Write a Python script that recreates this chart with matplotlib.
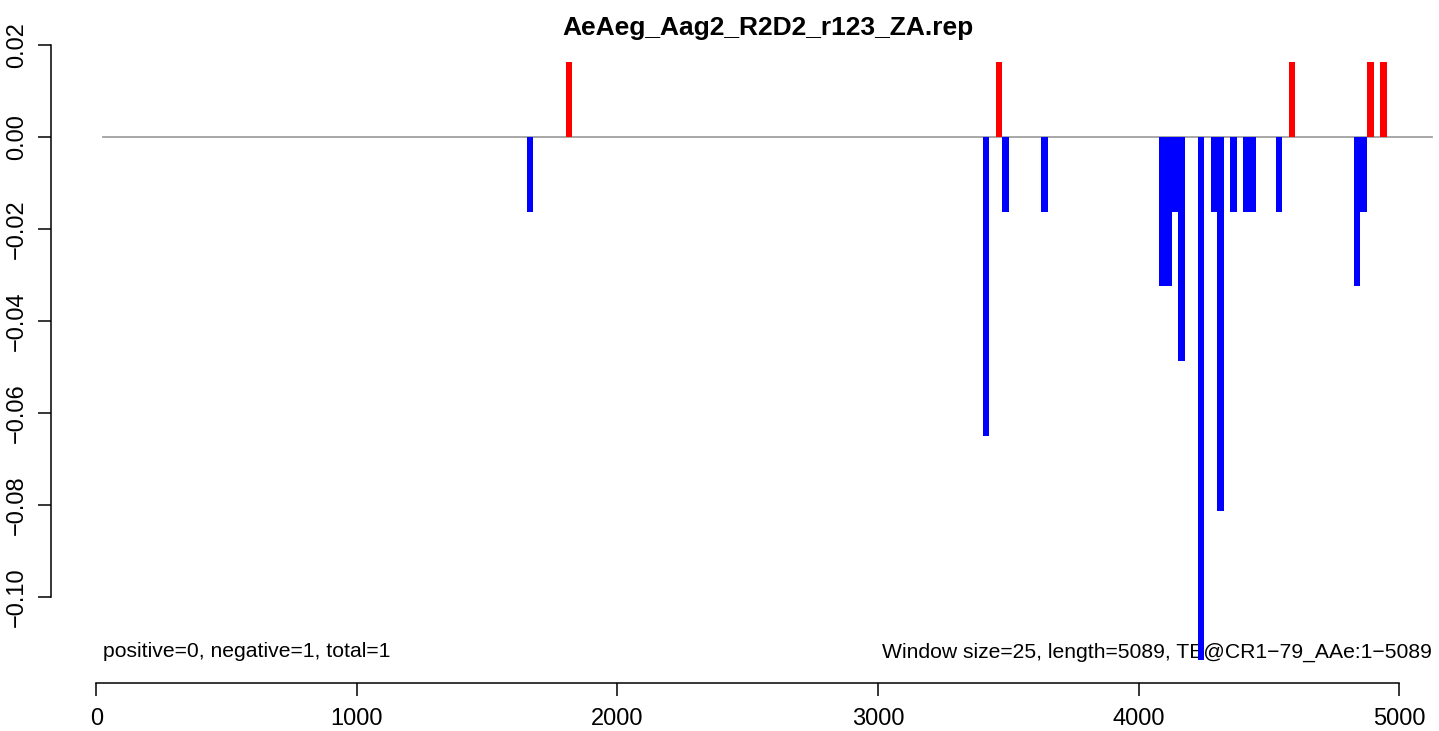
import numpy as np
import matplotlib
matplotlib.use('Agg')
import matplotlib.pyplot as plt

plt.rcParams['font.family'] = ['Liberation Sans', 'DejaVu Sans']

# window start positions (25 bp windows) and scores
window = 25
seq_len = 5089
pos_start = [1801, 3451, 4576, 4876, 4926]
pos_val = [0.0163, 0.0163, 0.0163, 0.0163, 0.0163]
neg_start = [1651, 3401, 3476, 3626, 4076, 4101, 4126, 4151, 4226,
             4276, 4301, 4351, 4401, 4426, 4526, 4826, 4851]
neg_val = [-0.0163, -0.0650, -0.0163, -0.0163, -0.0325, -0.0325, -0.0163,
           -0.0488, -0.1138, -0.0163, -0.0813, -0.0163, -0.0163, -0.0163,
           -0.0163, -0.0325, -0.0163]
x_ticks = [0, 1000, 2000, 3000, 4000, 5000]
y_ticks = [-0.10, -0.08, -0.06, -0.04, -0.02, 0.00, 0.02]
title = 'AeAeg_Aag2_R2D2_r123_ZA.rep'
left_note = 'positive=0, negative=1, total=1'
right_note = 'Window size=25, length=5089, TE@CR1\u221279_AAe:1\u22125089'
line_start, line_end = 27, 5125

W, H = 1439, 731
fig = plt.figure(figsize=(W / 100, H / 100), dpi=100)
# axes placed in pixel terms
x0, x1 = 50.7, 1439.0
y_top, y_bot = 39.2, 682.7
ax = fig.add_axes([x0 / W, 1 - y_bot / H, (x1 - x0) / W, (y_bot - y_top) / H])

px_per_unit = 0.2606
ax.set_xlim(-(96.3 - x0) / px_per_unit, (x1 - 96.3) / px_per_unit)
ax.set_ylim((136.7 - y_bot) / 4600, (136.7 - y_top) / 4600)

ax.plot([line_start, line_end], [0, 0], color='#a0a0a0', lw=1.3, zorder=1)
ax.bar(neg_start, neg_val, width=window, align='edge', color='#0000ff',
       linewidth=0, zorder=3)
ax.bar(pos_start, pos_val, width=window, align='edge', color='#ff0000',
       linewidth=0, zorder=3)

ax.text(line_start, -0.112, left_note, ha='left', va='center', fontsize=15.2, zorder=2)
ax.text(line_end, -0.112, right_note, ha='right', va='center', fontsize=15.2, zorder=2)

for s in ['top', 'right']:
    ax.spines[s].set_visible(False)
ax.spines['left'].set_bounds(-0.10, 0.02)
ax.spines['bottom'].set_bounds(0, 5000)
for s in ['left', 'bottom']:
    ax.spines[s].set_linewidth(1.1)

ax.set_xticks(x_ticks)
ax.set_xticklabels([str(t) for t in x_ticks])
ax.set_yticks(y_ticks)
ax.set_yticklabels([('%.2f' % t).replace('-', '\u2212') for t in y_ticks],
                   rotation=90, va='center')
ax.tick_params(axis='both', length=9.5, width=1.1, labelsize=17)
ax.tick_params(axis='x', pad=9)
ax.tick_params(axis='y', pad=7)

fig.text((50.7 + 1485) / 2 / W, 1 - 28 / H, title, ha='center', va='center',
         fontsize=19, fontweight='bold')

fig.savefig('out.png', dpi=100)
